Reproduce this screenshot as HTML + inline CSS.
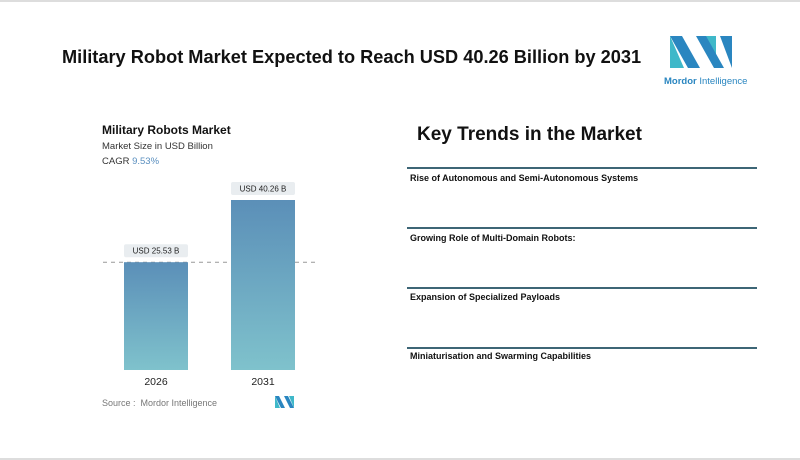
<!DOCTYPE html>
<html><head><meta charset="utf-8">
<style>
body{margin:0;width:800px;height:460px;background:#fff;position:relative;overflow:hidden;font-family:"Liberation Sans",sans-serif;}
.abs{position:absolute;}
.trend-line{position:absolute;left:407px;width:350px;height:1.5px;background:#3d6676;}
.trend{position:absolute;left:410px;font-size:9px;font-weight:bold;color:#111;}
</style></head>
<body>
<div class="abs" style="left:0;top:0;width:800px;height:2px;background:#ddd"></div>
<div class="abs" style="left:0;top:458px;width:800px;height:2px;background:#ddd"></div>
<div class="abs" style="left:62px;top:47px;font-size:18.2px;font-weight:bold;color:#111">Military Robot Market Expected to Reach USD 40.26 Billion by 2031</div>
<svg class="abs" style="left:660px;top:32px" width="90" height="58">
<polygon points="10,4 22,4 40,36 28,36" fill="#2a86c0"/>
<polygon points="10,4 10,36 24,36" fill="#3fb8c9"/>
<polygon points="44,4 56,4 56,36" fill="#3fb8c9"/>
<polygon points="36,4 46,4 64,36 54,36" fill="#2a86c0"/>
<polygon points="60,4 72,4 72,36" fill="#2a86c0"/>
<text x="4" y="52" font-size="9.5" fill="#2a86c0" font-family="Liberation Sans" font-weight="bold">Mordor<tspan font-weight="normal"> Intelligence</tspan></text>
</svg>
<div class="abs" style="left:102px;top:123px;font-size:12px;color:#111;font-weight:bold">Military Robots Market</div>
<div class="abs" style="left:102px;top:141px;font-size:9.5px;color:#333">Market Size in USD Billion</div>
<div class="abs" style="left:102px;top:156px;font-size:9.5px;color:#333">CAGR <span style="color:#5a8fbf">9.53%</span></div>
<svg id="chart" class="abs" style="left:0;top:0" width="400" height="460">
<defs><linearGradient id="g" x1="0" y1="0" x2="0" y2="1"><stop offset="0" stop-color="#5b8fb8"/><stop offset="1" stop-color="#7fc2cc"/></linearGradient></defs>
</svg>
<div class="abs" style="left:102px;top:398px;font-size:9px;color:#777">Source : &nbsp;Mordor Intelligence</div>
<svg class="abs" style="left:275px;top:396px" width="20" height="12">
<polygon points="0,0 4,0 10,12 6,12" fill="#2a86c0"/><polygon points="0,0 0,12 5,12" fill="#3fb8c9"/>
<polygon points="9,0 13,0 19,12 15,12" fill="#2a86c0"/><polygon points="14,0 19,0 19,12" fill="#3fb8c9"/>
</svg>
<div class="abs" style="left:417px;top:124px;font-size:19px;font-weight:bold;color:#111">Key Trends in the Market</div>
<div class="trend-line" style="top:167px"></div>
<div class="trend" style="top:173px">Rise of Autonomous and Semi-Autonomous Systems</div>
<div class="trend-line" style="top:227px"></div>
<div class="trend" style="top:233px">Growing Role of Multi-Domain Robots:</div>
<div class="trend-line" style="top:287px"></div>
<div class="trend" style="top:292px">Expansion of Specialized Payloads</div>
<div class="trend-line" style="top:347px"></div>
<div class="trend" style="top:351px">Miniaturisation and Swarming Capabilities</div>
<script>
const categories=["2026","2031"];
const values=[25.53,40.26];
const valueLabels=["USD 25.53 B","USD 40.26 B"];
const svg=document.getElementById('chart');
const NS='http://www.w3.org/2000/svg';
const base=370, pxPerUnit=170/40.26;
const y=v=>base-v*pxPerUnit;
const x=i=>124+i*107;
const bw=64;
function mk(t,a){const e=document.createElementNS(NS,t);for(const k in a)e.setAttribute(k,a[k]);svg.appendChild(e);return e;}
const dl=mk('line',{x1:103,x2:318,y1:y(values[0]),y2:y(values[0]),stroke:'#999','stroke-dasharray':'4,4','stroke-width':1});


values.forEach((v,i)=>{
 const r=mk('rect',{x:x(i),y:y(v),width:bw,height:base-y(v),fill:'url(#g)'});
 
 
 const lb=mk('rect',{x:x(i)+bw/2-32,y:y(v)-18,width:64,height:13,fill:'#e9edf0',rx:2});
 
 
 const t=mk('text',{x:x(i)+bw/2,y:y(v)-8.5,'text-anchor':'middle','font-size':8,fill:'#222','font-family':'Liberation Sans'});
 t.textContent=valueLabels[i];
 
 
 const c=mk('text',{x:x(i)+bw/2,y:base+15,'text-anchor':'middle','font-size':10.5,fill:'#222','font-family':'Liberation Sans'});
 c.textContent=categories[i];
 
 
});
</script>
</body></html>
